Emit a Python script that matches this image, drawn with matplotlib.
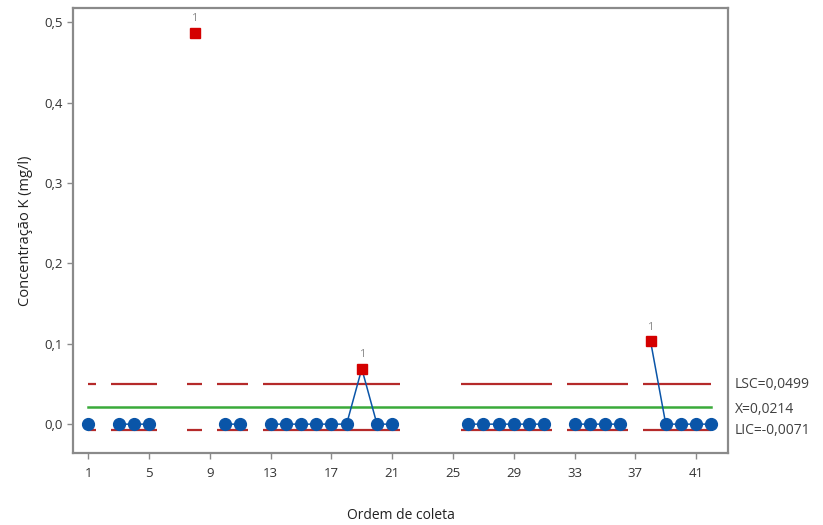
import numpy as np
import matplotlib.pyplot as plt

plt.rcParams['font.family'] = ['Open Sans', 'DejaVu Sans']

#%% Dados:
ordem = np.arange(1, 43)
conc = [0, np.nan, 0, 0, 0, np.nan, np.nan, 0.487, np.nan, 0, 0, np.nan,
        0, 0, 0, 0, 0, 0, 0.069, 0, 0, np.nan, np.nan, np.nan, np.nan,
        0, 0, 0, 0, 0, 0, np.nan, 0, 0, 0, 0, np.nan, 0.103, 0, 0, 0, 0]
fora = [8, 19, 38]          # pontos fora de controle (teste 1)
LSC = 0.0499
Xm = 0.0214
LIC = -0.0071
xticks = [1, 5, 9, 13, 17, 21, 25, 29, 33, 37, 41]
yticks = [0.0, 0.1, 0.2, 0.3, 0.4, 0.5]

conc = np.array(conc, dtype=float)

#%% Trechos com dados (para os limites):
trechos = []
ini = None
for k in range(len(ordem)):
    if not np.isnan(conc[k]) and ini is None:
        ini = ordem[k]
    if np.isnan(conc[k]) and ini is not None:
        trechos.append((ini, ordem[k-1]))
        ini = None
if ini is not None:
    trechos.append((ini, ordem[-1]))

#%% Figura:
fig = plt.figure(figsize=(8.23, 5.25), dpi=100)
ax = fig.add_axes([0.0887, 0.137, 0.796, 0.848])

cinza = '#8a8a8a'
vermelho = '#b52a2a'

for a, b in trechos:
    x0 = max(a - 0.5, ordem[0])
    x1 = min(b + 0.5, ordem[-1])
    ax.plot([x0, x1], [LSC, LSC], color=vermelho, lw=1.6, solid_capstyle='butt')
    ax.plot([x0, x1], [LIC, LIC], color=vermelho, lw=1.6, solid_capstyle='butt')

ax.plot([ordem[0], ordem[-1]], [Xm, Xm], color='#3aaa3a', lw=1.8)

# linha e pontos
ax.plot(ordem, conc, '-', color='#0a55a8', lw=1.1, zorder=3)
ok = np.array([o not in fora for o in ordem])
ax.plot(ordem[ok], conc[ok], 'o', color='#0a55a8', ms=8.5, zorder=3)
for p in fora:
    ax.plot(p, conc[p-1], 's', color='#d40000', ms=7.5, zorder=4)
    ax.text(p, conc[p-1] + 0.011, '1', color='#8c8c8c', fontsize=8,
            ha='center', va='bottom')

# rótulos dos limites
ax.text(1.010, LSC, 'LSC=0,0499', transform=ax.get_yaxis_transform(),
        fontsize=10, color='#404040', va='center')
ax.text(1.010, Xm - 0.003, 'X=0,0214', transform=ax.get_yaxis_transform(),
        fontsize=10, color='#404040', va='center')
ax.text(1.010, LIC - 0.0005, 'LIC=-0,0071', transform=ax.get_yaxis_transform(),
        fontsize=10, color='#404040', va='center')

#%% Eixos:
ax.set_xlim(0.0, 43.1)
ax.set_ylim(-0.036, 0.518)
ax.set_xticks(xticks)
ax.set_yticks(yticks)
ax.set_yticklabels([('%.1f' % v).replace('.', ',') for v in yticks])
ax.tick_params(axis='both', colors=cinza, labelcolor='#333333', labelsize=9.5,
               length=4, width=1)
ax.tick_params(axis='x', pad=6)
for s in ax.spines.values():
    s.set_color(cinza)
    s.set_linewidth(1.6)

ax.set_xlabel('Ordem de coleta', fontsize=10, color='#222222', labelpad=20)
ax.set_ylabel('Concentração K (mg/l)', fontsize=10.5, color='#222222', labelpad=8)

plt.savefig('out.png', dpi=100)
